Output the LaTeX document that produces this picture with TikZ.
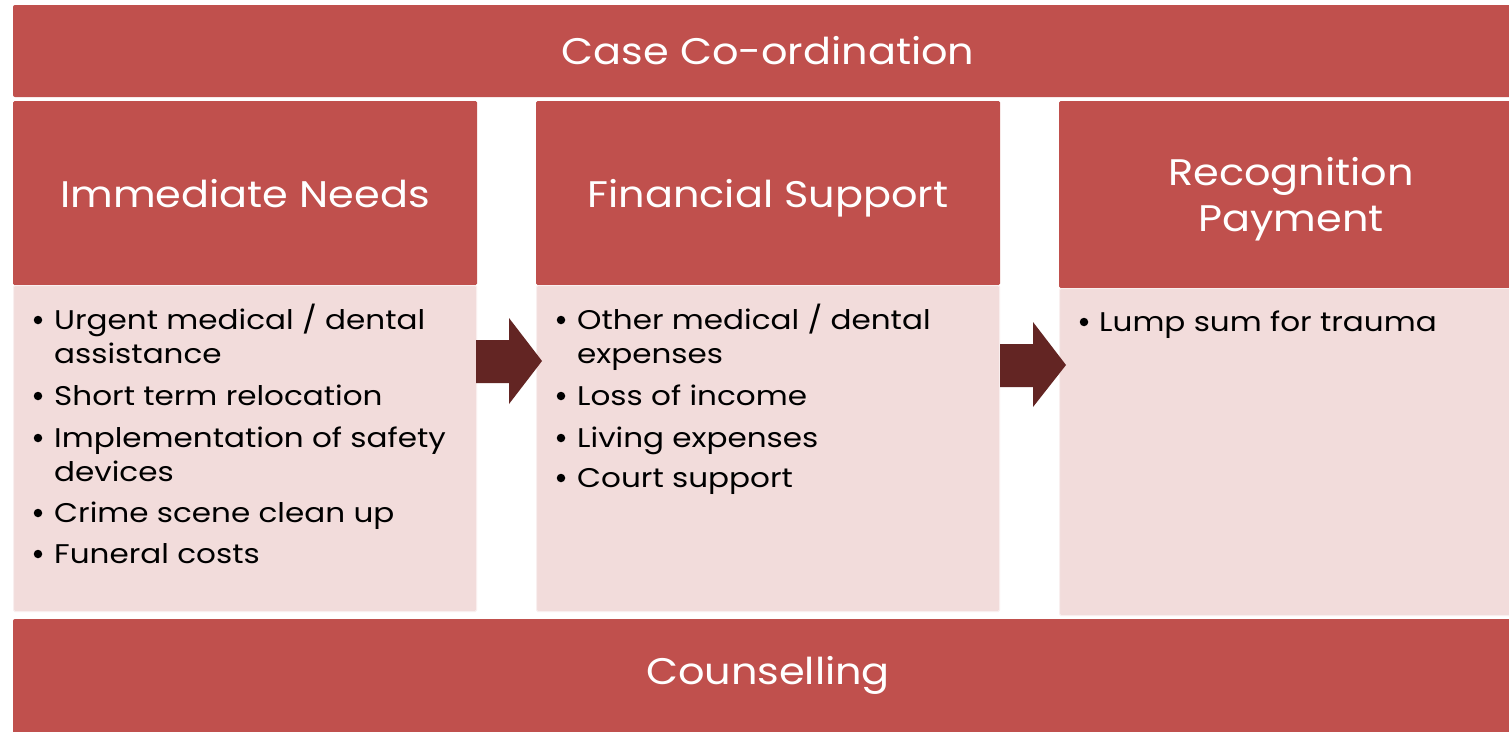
\documentclass[tikz,border=0pt]{standalone}
\usepackage{fontspec}
\setmainfont{Poppins}
\newfontfamily\hfont[FakeStretch=1.12]{Poppins}
\newfontfamily\bfont[FakeStretch=1.15]{Poppins}
\definecolor{hdr}{HTML}{C0504D}
\definecolor{bodyc}{HTML}{F2DCDB}
\definecolor{arr}{HTML}{632523}
\tikzset{
  bar/.style={fill=hdr, draw=none, rounded corners=2pt},
  hbox/.style={fill=hdr, draw=none, rounded corners=1.5pt},
  bbox/.style={fill=bodyc, draw=white!55!bodyc, line width=1pt, rounded corners=1.5pt},
  bigtxt/.style={text=white, font=\hfont\fontsize{37}{44}\selectfont, inner sep=0pt, anchor=base, align=center},
  itxt/.style={text=black, font=\bfont\fontsize{27}{33}\selectfont, inner sep=0pt, anchor=base west},
  bul/.style={circle, fill=black, draw=none, inner sep=0pt, minimum size=8.5pt},
  blockarrow/.style={fill=arr, draw=none}
}
\begin{document}
\begin{tikzpicture}[x=1pt,y=-1pt]
\useasboundingbox (0,0) rectangle (1509,731);
\clip (0,0) rectangle (1509,731);
\fill[white] (0,0) rectangle (1509,731);
% bars
\fill[bar] (13,5) rectangle (1523,97);
\node[bigtxt] (case) at (768,64) {Case Co-ordination};
\fill[bar] (13,619) rectangle (1523,740);
\node[bigtxt] (couns) at (768,684) {Counselling};
% column 1
\fill[hbox] (13,101) rectangle (477,285);
\draw[bbox] (13.5,285.5) rectangle (476.5,611.5);
\node[bigtxt] (h1) at (245,207) {Immediate Needs};
% column 2
\fill[hbox] (536,101) rectangle (1000,285);
\draw[bbox] (536.5,285.5) rectangle (999.5,611.5);
\node[bigtxt] (h2) at (768,207) {Financial Support};
% column 3
\fill[hbox] (1059,101) rectangle (1523,288);
\draw[bbox] (1059.5,288.5) rectangle (1522.5,615.5);
\node[bigtxt] (h3a) at (1291,185) {Recognition};
\node[bigtxt] (h3b) at (1291,231) {Payment};
% arrows
\fill[blockarrow] (476,340) -- (509,340) -- (509,318) -- (542,361) -- (509,404) -- (509,383) -- (476,383) -- cycle;
\fill[blockarrow] (1000,344) -- (1033,344) -- (1033,322) -- (1066,365) -- (1033,407) -- (1033,387) -- (1000,387) -- cycle;
% column 1 items
\node[bul] (b11) at (38,320) {};
\node[itxt] (t11) at (54,329) {Urgent medical / dental};
\node[itxt] (t11b) at (54,363) {assistance};
\node[bul] (b12) at (38,396) {};
\node[itxt] (t12) at (54,405) {Short term relocation};
\node[bul] (b13) at (38,438) {};
\node[itxt] (t13) at (54,447) {Implementation of safety};
\node[itxt] (t13b) at (54,481) {devices};
\node[bul] (b14) at (38,513) {};
\node[itxt] (t14) at (54,522) {Crime scene clean up};
\node[bul] (b15) at (38,554) {};
\node[itxt] (t15) at (54,563) {Funeral costs};
% column 2 items
\node[bul] (b21) at (561,320) {};
\node[itxt] (t21) at (577,329) {Other medical / dental};
\node[itxt] (t21b) at (577,363) {expenses};
\node[bul] (b22) at (561,396) {};
\node[itxt] (t22) at (577,405) {Loss of income};
\node[bul] (b23) at (561,438) {};
\node[itxt] (t23) at (577,447) {Living expenses};
\node[bul] (b24) at (561,478) {};
\node[itxt] (t24) at (577,487) {Court support};
% column 3 items
\node[bul] (b31) at (1084,322) {};
\node[itxt] (t31) at (1099,331) {Lump sum for trauma};
\end{tikzpicture}
\end{document}
